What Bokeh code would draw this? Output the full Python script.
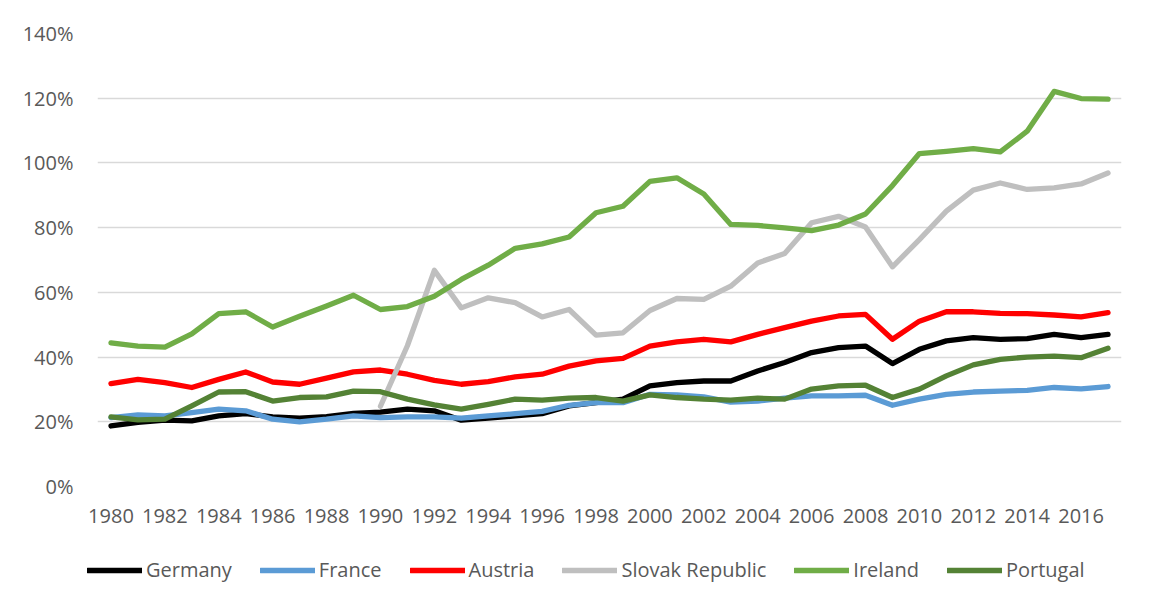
from bokeh.plotting import figure
from bokeh.layouts import column
from bokeh.models import Range1d, FixedTicker, PrintfTickFormatter, Legend, LegendItem
from bokeh.embed import file_html
from bokeh.resources import INLINE

nan = float("nan")
years = list(range(1980, 2018))
tick_years = list(range(1980, 2017, 2))
y_ticks = [0, 20, 40, 60, 80, 100, 120, 140]

germany = [18.7, 19.8, 20.5, 20.3, 21.8, 22.5, 21.5, 21.1, 21.6, 22.6,
           23.0, 23.9, 23.4, 20.5, 21.1, 21.8, 22.5, 24.9, 25.9, 27.0,
           31.1, 32.1, 32.6, 32.6, 35.7, 38.3, 41.4, 42.9, 43.4, 38.0,
           42.4, 45.0, 46.0, 45.5, 45.7, 47.0, 46.0, 47.0]
france = [21.3, 22.1, 21.8, 22.8, 23.9, 23.4, 20.8, 20.0, 20.8, 21.8,
          21.3, 21.5, 21.5, 21.1, 21.8, 22.5, 23.2, 25.1, 25.9, 25.9,
          28.5, 28.3, 27.7, 26.1, 26.4, 27.3, 28.0, 28.0, 28.2, 25.1,
          27.0, 28.5, 29.2, 29.5, 29.7, 30.6, 30.2, 30.9]
austria = [31.8, 33.1, 32.1, 30.6, 33.1, 35.4, 32.3, 31.6, 33.5, 35.4,
           36.0, 34.7, 32.8, 31.6, 32.4, 33.9, 34.7, 37.2, 38.8, 39.6,
           43.4, 44.7, 45.5, 44.7, 47.0, 49.1, 51.1, 52.7, 53.2, 45.5,
           51.1, 54.0, 54.0, 53.5, 53.4, 53.0, 52.4, 53.7]
slovak = [nan, nan, nan, nan, nan, nan, nan, nan, nan, nan,
          24.8, 43.5, 66.8, 55.2, 58.3, 56.8, 52.4, 54.7, 46.8, 47.5,
          54.4, 58.1, 57.8, 61.9, 69.1, 72.0, 81.5, 83.5, 80.2, 67.9,
          76.3, 85.1, 91.6, 93.8, 91.8, 92.3, 93.5, 96.9]
ireland = [44.4, 43.4, 43.1, 47.2, 53.4, 54.0, 49.3, 52.6, 55.8, 59.1,
           54.7, 55.6, 58.8, 64.0, 68.4, 73.6, 75.0, 77.1, 84.6, 86.6,
           94.3, 95.4, 90.4, 81.0, 80.7, 79.9, 79.1, 80.8, 84.2, 93.0,
           102.9, 103.6, 104.4, 103.4, 109.8, 122.1, 119.9, 119.7]
portugal = [21.5, 20.6, 20.8, 24.9, 29.2, 29.3, 26.4, 27.5, 27.7, 29.5,
            29.3, 27.0, 25.2, 23.9, 25.4, 27.0, 26.7, 27.3, 27.5, 26.4,
            28.3, 27.5, 27.0, 26.7, 27.3, 27.0, 30.1, 31.1, 31.3, 27.5,
            30.1, 34.2, 37.6, 39.3, 40.0, 40.3, 39.8, 42.7]

names = ["Germany", "France", "Austria", "Slovak Republic", "Ireland", "Portugal"]
series = [germany, france, austria, slovak, ireland, portugal]
colors = ["#000000", "#5B9BD5", "#FF0000", "#BFBFBF", "#70AD47", "#548235"]

FONT = "Open Sans"
TXT = "#595959"

p = figure(width=1159, height=540, output_backend="svg", toolbar_location=None,
           x_range=Range1d(1979.5, 2017.5), y_range=Range1d(0, 140),
           min_border_left=97, min_border_right=38, min_border_top=33, min_border_bottom=54)
p.frame_align = False
p.outline_line_color = None
p.background_fill_color = "white"
p.border_fill_color = "white"

p.xgrid.grid_line_color = None
p.ygrid.grid_line_color = "#D9D9D9"
p.ygrid.grid_line_width = 1.3
p.ygrid.ticker = FixedTicker(ticks=y_ticks)

p.yaxis.ticker = FixedTicker(ticks=y_ticks)
p.yaxis.formatter = PrintfTickFormatter(format="%d%%")
p.xaxis.ticker = FixedTicker(ticks=tick_years)
for ax in (p.xaxis[0], p.yaxis[0]):
    ax.axis_line_color = None
    ax.major_tick_line_color = None
    ax.minor_tick_line_color = None
    ax.major_label_text_font = FONT
    ax.major_label_text_font_size = "20px"
    ax.major_label_text_color = TXT
p.yaxis.major_label_standoff = 18
p.xaxis.major_label_standoff = 16

for vals, col in zip(series, colors):
    p.line(years, vals, line_color=col, line_width=5.3, line_cap="round", line_join="round")

# legend strip below the chart (same series, drawn outside its visible range)
lf = figure(width=1159, height=67, output_backend="svg", toolbar_location=None,
            x_range=Range1d(0, 1), y_range=Range1d(0, 1),
            min_border_left=0, min_border_right=0, min_border_top=0, min_border_bottom=0)
lf.frame_align = False
lf.axis.visible = False
lf.grid.visible = False
lf.outline_line_color = None
lf.background_fill_color = "white"
lf.border_fill_color = "white"

items = []
for name, vals, col in zip(names, series, colors):
    r = lf.line(years, vals, line_color=col, line_width=5.3, line_cap="round", line_join="round")
    items.append(LegendItem(label=name, renderers=[r]))

legend = Legend(items=items, orientation="horizontal", location=(87, 24),
                label_text_font=FONT, label_text_font_size="20px", label_text_color=TXT,
                glyph_width=55, label_standoff=4, spacing=28,
                padding=0, margin=0, border_line_alpha=0, background_fill_alpha=0)
lf.add_layout(legend, "center")

open("out.html", "w").write(file_html(column(p, lf, spacing=0), INLINE))
